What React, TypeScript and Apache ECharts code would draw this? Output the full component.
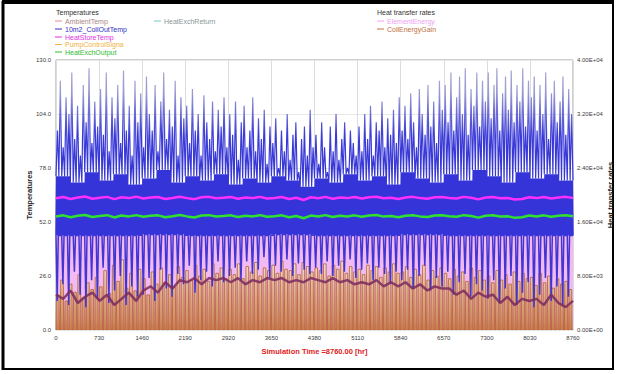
import React, { useEffect, useRef } from "react";
import * as echarts from "echarts";

const HOURS = 8760;
const tempTicks = [0, 26, 52, 78, 104, 130];
const rateTicks = [0, 8000, 16000, 24000, 32000, 40000];
const timeTicks = [0, 730, 1460, 2190, 2920, 3650, 4380, 5110, 5840, 6570, 7300, 8030, 8760];

// 10m2_CollOutTemp: daily-ish peaks (180 cycles)
const collPeak = [
  96, 120, 88, 112, 104, 124, 92, 108, 84, 118, 100, 126, 90, 110, 98,
  116, 94, 124, 86, 112, 102, 118, 90, 125, 96, 108, 84, 120, 100, 114,
  88, 122, 104, 96, 118, 86, 110, 124, 92, 106, 98, 120, 84, 112, 102,
  108, 90, 116, 96, 104, 84, 113, 100, 92, 110, 86, 106, 98, 112, 88,
  104, 94, 110, 82, 100, 108, 88, 96, 112, 86, 102, 92, 106, 80, 98,
  90, 102, 78, 96, 86, 104, 82, 94, 100, 76, 92, 98, 84, 106, 88,
  94, 80, 100, 88, 76, 98, 86, 104, 82, 92, 100, 78, 96, 90, 84,
  98, 86, 104, 92, 108, 84, 100, 96, 110, 88, 102, 94, 106, 90, 112,
  96, 108, 92, 114, 100, 88, 116, 104, 94, 118, 98, 110, 90, 120, 106,
  118, 100, 124, 96, 112, 122, 104, 126, 94, 116, 108, 124, 98, 120, 110,
  124, 102, 118, 126, 96, 114, 122, 106, 125, 100, 118, 110, 126, 98, 120,
  112, 122, 96, 118, 104, 124, 92, 114, 120, 100, 110, 122, 94, 116, 104,
];
// night-time lows of collector outlet temperature (90 nights shown)
const collLow = [
  14, 22, 12, 28, 17, 11, 24, 15, 30, 13, 19, 26, 12, 21, 16,
  17, 25, 14, 29, 20, 16, 27, 22, 31, 18, 24, 28, 21, 33, 23,
  26, 30, 24, 33, 27, 29, 35, 25, 31, 28, 34, 26, 32, 29, 27,
  30, 27, 33, 26, 31, 28, 34, 25, 29, 32, 24, 30, 27, 22, 28,
  24, 29, 20, 26, 31, 19, 25, 21, 28, 17, 23, 27, 16, 22, 19,
  15, 24, 13, 20, 26, 12, 18, 23, 11, 17, 25, 14, 21, 12, 16,
];
// collector outlet while the pump runs: upper level (36 steps) and lower level (12 steps)
const bandTop = [
  74, 71, 76, 72, 75, 70, 73, 77, 71, 74, 72, 75, 70, 73, 71, 74, 72, 69,
  73, 71, 75, 72, 74, 70, 76, 73, 71, 75, 72, 77, 74, 71, 76, 73, 75, 72,
];
const bandBottom = [45.5, 45.5, 46, 45.5, 45.5, 46, 45.5, 45.5, 46, 45.5, 45.5, 45.5];

const ambientTemp = [
  17, 15, 19, 13, 16, 18,
  14, 17, 12, 15, 18, 14,
  19, 21, 18, 23, 20, 24,
  23, 25, 22, 25, 24, 25,
  23, 25, 22, 24, 23, 25,
  24, 25, 23, 24, 23, 25,
  24, 23, 25, 23, 24, 22,
  23, 22, 24, 21, 23, 21,
  23, 20, 22, 19, 21, 20,
  20, 17, 19, 15, 18, 16,
  17, 13, 16, 12, 15, 14,
  15, 12, 17, 13, 11, 14,
];

const heatStoreTemp = [
  63.4, 64.0, 63.1, 63.8, 64.3, 63.2, 63.7, 64.1, 63.0, 63.9, 63.5, 64.2,
  63.3, 63.8, 64.0, 63.1, 63.6, 64.2, 63.5, 63.0, 63.9, 64.1, 63.4, 63.7,
  64.0, 63.2, 63.8, 63.5, 64.1, 63.3, 63.6, 64.0, 63.1, 63.7, 62.6, 63.9,
  63.4, 64.1, 63.2, 63.8, 63.5, 64.0, 63.3, 63.9, 64.2, 63.4, 63.7, 63.1,
  63.8, 64.1, 63.5, 63.2, 63.9, 64.0, 63.6, 63.3, 64.1, 63.7, 62.9, 63.8,
  64.0, 63.4, 63.6, 62.8, 63.1, 63.9, 63.5, 64.0, 63.3, 63.8, 64.1, 63.6,
];

const heatExchOutput = [
  54.6, 55.2, 54.3, 55.0, 55.4, 54.4, 54.9, 55.3, 54.2, 55.1, 54.7, 55.3,
  54.5, 55.0, 55.2, 54.3, 54.8, 55.4, 54.7, 54.2, 55.1, 55.3, 54.6, 54.9,
  55.2, 54.4, 55.0, 54.7, 55.3, 54.5, 54.8, 55.2, 54.3, 54.9, 53.8, 55.1,
  54.6, 55.3, 54.4, 55.0, 54.7, 55.2, 54.5, 55.1, 55.4, 54.6, 54.9, 54.3,
  55.0, 55.3, 54.7, 54.4, 55.1, 55.2, 54.8, 54.5, 55.3, 54.9, 54.1, 55.0,
  55.2, 54.6, 54.8, 54.0, 54.3, 55.1, 54.7, 55.2, 54.5, 55.0, 55.3, 54.8,
];

// CollEnergyGain daily peaks (kJ/hr), 120 cycles
const collEnergyGain = [
  5200, 7400, 4300, 6800, 5600, 8200, 4800, 7000, 6000, 7800,
  6400, 8800, 5400, 9600, 7200, 10400, 6200, 8400, 5800, 9000,
  7600, 5200, 8600, 6800, 9200, 7000, 8200, 6400, 9400, 7800,
  8800, 7400, 9600, 8000, 9000, 7200, 9800, 8400, 9200, 7600,
  9000, 8200, 9800, 7600, 9400, 8600, 10000, 8000, 9200, 8800,
  9600, 8400, 10200, 9000, 8800, 9800, 8200, 10000, 9400, 8600,
  9200, 8800, 9800, 8000, 9600, 9000, 10200, 8400, 9400, 8600,
  9000, 8200, 9600, 8800, 9400, 7800, 9200, 8600, 9800, 8400,
  8600, 9400, 7800, 9000, 8200, 9600, 7400, 8800, 8000, 9200,
  8400, 7600, 9000, 8000, 8600, 7200, 9200, 7800, 8800, 7400,
  8000, 7000, 8800, 7400, 8200, 6800, 8600, 7200, 8400, 7600,
  7800, 6600, 8400, 7000, 8000, 6200, 7600, 6800, 7200, 6000,
];

const elementEnergy = [14000, 14000, 14000, 14000, 14000, 14000, 14000, 14000, 14000, 14000, 14000, 14000, 14000];

function spread(values: number[]): number[][] {
  return values.map((v, i) => [(i * HOURS) / (values.length - 1), v]);
}
const pick = (arr: number[], i: number, n: number) => arr[Math.min(arr.length - 1, Math.floor((i * arr.length) / n))];

// morning peaks: from pump-running level up to the daily peak
function buildPeaks(): number[][] {
  const n = collPeak.length;
  const d = HOURS / n;
  const pts: number[][] = [];
  for (let i = 0; i < n; i++) {
    const t = i * d;
    pts.push([t, pick(bandTop, i, n)], [t + 0.5 * d, collPeak[i]]);
  }
  pts.push([HOURS, bandTop[bandTop.length - 1]]);
  return pts;
}
// nights: collector outlet dropping from the pump level to the night low
function buildNights(): number[][] {
  const n = collLow.length;
  const d = HOURS / n;
  const pts: number[][] = [];
  for (let i = 0; i < n; i++) {
    const t = i * d;
    const b = pick(bandBottom, i, n);
    pts.push([t, b], [t + 0.2 * d, collLow[i]], [t + 0.4 * d, b]);
  }
  pts.push([HOURS, bandBottom[bandBottom.length - 1]]);
  return pts;
}
// pump running: collector outlet swinging between the two levels
function buildBand(): number[][] {
  const n = collPeak.length * 2;
  const d = HOURS / n;
  const pts: number[][] = [];
  for (let k = 0; k < n; k++) {
    const t = k * d;
    pts.push([t, pick(bandBottom, k, n)], [t + 0.5 * d, pick(bandTop, k, n)]);
  }
  pts.push([HOURS, bandBottom[bandBottom.length - 1]]);
  return pts;
}

function buildGain(): number[][] {
  const d = HOURS / collEnergyGain.length;
  const pts: number[][] = [];
  collEnergyGain.forEach((g, i) => {
    const t = i * d;
    pts.push([t, 0], [t + 0.1 * d, g], [t + 0.7 * d, g], [t + 0.8 * d, 0]);
  });
  pts.push([HOURS, 0]);
  return pts;
}

function sci(v: number): string {
  const [m, e] = v.toExponential(2).split("e");
  const sign = e[0] === "-" ? "-" : "+";
  return m + "E" + sign + e.replace(/[+-]/, "").padStart(2, "0");
}

const FONT = "Liberation Sans, Arial, sans-serif";

export default function App() {
  const ref = useRef<HTMLDivElement>(null);
  useEffect(() => {
    document.body.style.margin = "0";
    if (!ref.current) return;
    const chart = echarts.init(ref.current, undefined, { renderer: "svg" });
    const G = (stops: [number, string][]) =>
      new echarts.graphic.LinearGradient(0, 60, 0, 330, stops.map(([offset, color]) => ({ offset, color })), true);

    const legendL = [
      { name: "AmbientTemp", line: "#e08a8a", text: "#a88888", y: 21 },
      { name: "10m2_CollOutTemp", line: "#3030c0", text: "#3030c0", y: 29 },
      { name: "HeatStoreTemp", line: "#e030e0", text: "#e030e0", y: 37 },
      { name: "PumpControlSigna", line: "#f0b040", text: "#f0b040", y: 44.5 },
      { name: "HeatExchOutput", line: "#30c030", text: "#30c030", y: 52 },
    ];
    const graphics: any[] = [
      { type: "rect", shape: { x: 3, y: 2, width: 610, height: 367 }, style: { fill: "none", stroke: "#000", lineWidth: 2 } },
      { type: "line", shape: { x1: 2, y1: 2, x2: 614, y2: 2 }, style: { stroke: "#000", lineWidth: 4 } },
      { type: "line", shape: { x1: 3, y1: 1, x2: 3, y2: 370 }, style: { stroke: "#000", lineWidth: 3 } },
      { type: "text", x: 56, y: 12, style: { text: "Temperatures", fontSize: 7, fill: "#333", fontFamily: FONT, verticalAlign: "middle" } },
      { type: "text", x: 377, y: 12, style: { text: "Heat transfer rates", fontSize: 7, fill: "#333", fontFamily: FONT, verticalAlign: "middle" } },
    ];
    const addEntry = (x: number, y: number, name: string, line: string, text: string) => {
      graphics.push({ type: "line", shape: { x1: x, y1: y, x2: x + 7, y2: y }, style: { stroke: line, lineWidth: 1 } });
      graphics.push({ type: "text", x: x + 10, y, style: { text: name, fontSize: 7, fill: text, fontFamily: FONT, verticalAlign: "middle" } });
    };
    legendL.forEach((e) => addEntry(55, e.y, e.name, e.line, e.text));
    addEntry(154, 21, "HeatExchReturn", "#70c8c8", "#8a9898");
    addEntry(377, 21, "ElementEnergy", "#f0a0f0", "#f0a0f0");
    addEntry(377, 29, "CollEnergyGain", "#c07040", "#c07040");

    const lineBase = { type: "line", showSymbol: false, symbol: "none", silent: true };
    const nameStyle = { color: "#222", fontWeight: "bold", fontSize: 7.5, fontFamily: FONT };
    const labelStyle = { fontSize: 6, color: "#404040", fontFamily: FONT };

    chart.setOption({
      animation: false,
      backgroundColor: "#fff",
      grid: {
        left: 56, right: 44, top: 60, bottom: 44,
        outerBoundsMode: "none",
        containLabel: false,
        show: true, borderColor: "#a0a0a0", borderWidth: 1, backgroundColor: "transparent",
      },
      xAxis: {
        type: "value",
        min: 0,
        max: HOURS,
        interval: timeTicks[1] - timeTicks[0],
        name: "Simulation Time =8760.00 [hr]",
        nameLocation: "middle",
        nameGap: 17,
        nameMoveOverlap: false,
        nameTextStyle: { ...nameStyle, color: "#e02020" },
        axisLine: { show: false },
        axisTick: { show: false },
        axisLabel: { ...labelStyle, margin: 5, formatter: (v: number) => String(v) },
        splitLine: { show: true, lineStyle: { color: "#dcdcdc", width: 1 } },
      },
      yAxis: [
        {
          type: "value",
          min: tempTicks[0],
          max: tempTicks[tempTicks.length - 1],
          interval: tempTicks[1] - tempTicks[0],
          name: "Temperatures",
          nameLocation: "middle",
          nameRotate: 90,
          nameGap: 23,
          nameMoveOverlap: false,
          nameTextStyle: nameStyle,
          axisLine: { show: false },
          axisTick: { show: false },
          axisLabel: { ...labelStyle, margin: 5, formatter: (v: number) => v.toFixed(1) },
          splitLine: { show: true, lineStyle: { color: "#e8e8e8", width: 1 } },
        },
        {
          type: "value",
          min: rateTicks[0],
          max: rateTicks[rateTicks.length - 1],
          interval: rateTicks[1] - rateTicks[0],
          position: "right",
          name: "Heat transfer rates",
          nameLocation: "middle",
          nameRotate: 90,
          nameGap: 33,
          nameMoveOverlap: false,
          nameTextStyle: nameStyle,
          axisLine: { show: false },
          axisTick: { show: false },
          axisLabel: { ...labelStyle, margin: 4, formatter: sci },
          splitLine: { show: false },
        },
      ],
      graphic: graphics,
      series: [
        {
          ...lineBase,
          name: "ElementEnergy",
          yAxisIndex: 1,
          step: "end",
          data: spread(elementEnergy),
          lineStyle: { color: "#f0b0f0", width: 1 },
          areaStyle: { color: "#f2baf2", opacity: 1 },
        },
        {
          ...lineBase,
          name: "CollEnergyGain",
          yAxisIndex: 1,
          data: buildGain(),
          lineStyle: { width: 0.8, color: "#b85a30" },
          areaStyle: {
            opacity: 1,
            color: G([
              [0, "#f6f0ee"],
              [0.74, "#f3e8e2"],
              [0.8, "#e8ccb6"],
              [0.88, "#dbab86"],
              [0.96, "#cf9064"],
              [1, "#c67c4a"],
            ]),
          },
        },
        {
          ...lineBase,
          name: "10m2_CollOutTemp",
          data: buildNights(),
          lineStyle: { color: "#4236d2", width: 1.5 },
        },
        {
          ...lineBase,
          name: "AmbientTemp",
          data: spread(ambientTemp),
          lineStyle: { color: "#7a2a5e", width: 2.5, opacity: 0.85 },
        },
        {
          ...lineBase,
          name: "10m2_CollOutTemp peaks",
          data: buildPeaks(),
          lineStyle: {
            width: 1.2,
            color: G([
              [0, "#a8a8d2"],
              [0.12, "#9a9ad4"],
              [0.2, "#6a6ad6"],
              [0.28, "#3a3ad8"],
              [1, "#3030d4"],
            ]),
          },
        },
        {
          ...lineBase,
          name: "10m2_CollOutTemp pump",
          data: buildBand(),
          lineStyle: { color: "#3434d8", width: 1.5 },
        },
        {
          ...lineBase,
          name: "HeatStoreTemp",
          data: spread(heatStoreTemp),
          lineStyle: { color: "#ff30ff", width: 2.5 },
        },
        {
          ...lineBase,
          name: "HeatExchOutput",
          data: spread(heatExchOutput),
          lineStyle: { color: "#30e030", width: 2.5 },
        },
      ],
    });
    return () => chart.dispose();
  }, []);
  return <div ref={ref} style={{ width: 617, height: 374 }} />;
}
